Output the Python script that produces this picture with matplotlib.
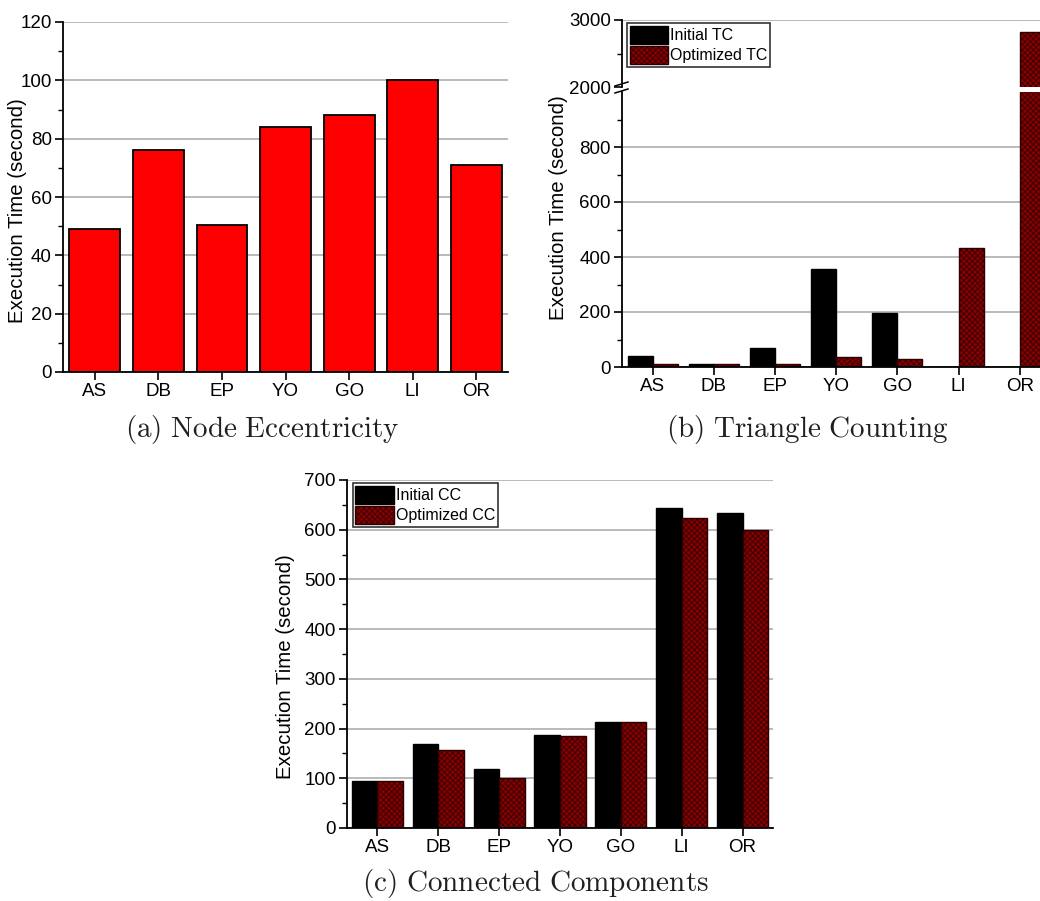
import matplotlib
matplotlib.use('Agg')
import matplotlib.pyplot as plt
import numpy as np
from matplotlib.ticker import FixedLocator

plt.rcParams['font.family'] = ['Liberation Sans', 'DejaVu Sans']
plt.rcParams['mathtext.fontset'] = 'cm'
plt.rcParams['hatch.linewidth'] = 0.5

# data
datasets = ['AS', 'DB', 'EP', 'YO', 'GO', 'LI', 'OR']
ecc_time = [49, 76, 50.5, 84, 88, 100, 71]
tc_initial = [39, 12, 70, 355, 198, 0, 0]
tc_optimized = [12, 12, 12, 35, 30, 433, 2820]
cc_initial = [95, 168, 119, 187, 213, 643, 634]
cc_optimized = [95, 156, 101, 185, 213, 624, 600]

RED = '#ff0000'
DARKRED = '#850000'
HATCH = 'xxxxxx'
HATCH_EDGE = '#2a0000'
GRID = '#b4b4b4'
W, H = 1040, 901


def fig_rect(left, top, right, bottom):
    # pixel box -> figure fraction
    return [left / W, 1 - bottom / H, (right - left) / W, (bottom - top) / H]


def style_axes(ax, major, minor):
    for s in ['top', 'right']:
        ax.spines[s].set_visible(False)
    for s in ['left', 'bottom']:
        ax.spines[s].set_linewidth(1.3)
    ax.yaxis.set_major_locator(FixedLocator(major))
    ax.yaxis.set_minor_locator(FixedLocator(minor))
    ax.tick_params(axis='both', which='major', direction='out', length=6,
                   width=1.2, labelsize=13.5, pad=2)
    ax.tick_params(axis='y', which='minor', direction='out', length=3.5,
                   width=1.0)
    ax.yaxis.grid(True, color=GRID, lw=1.3)
    ax.set_axisbelow(True)
    ax.set_xlim(-0.5, len(datasets) - 0.5)


def caption(x, y, text):
    fig.text(x / W, 1 - y / H, r'$\mathrm{' + text.replace(' ', r'\ ') + '}$',
             fontsize=21, ha='center', va='center', color='#202020')


def add_legend(ax, anchor):
    leg = ax.legend(loc='upper left', bbox_to_anchor=anchor, fontsize=11.5,
                    frameon=True, fancybox=False, edgecolor='#333333',
                    borderpad=0.15, labelspacing=0.1, handlelength=2.4,
                    handleheight=1.4, handletextpad=0.15, borderaxespad=0,
                    framealpha=1)
    leg.get_frame().set_linewidth(1.2)


fig = plt.figure(figsize=(10.4, 9.01), dpi=100)
x = np.arange(len(datasets))

# (a) node eccentricity
ax_a = fig.add_axes(fig_rect(63, 22, 508, 372))
ax_a.bar(x, ecc_time, width=0.8, color=RED, edgecolor='black', lw=1.3)
style_axes(ax_a, np.arange(0, 121, 20), np.arange(10, 120, 20))
ax_a.set_ylim(0, 120)
ax_a.set_xticks(x)
ax_a.set_xticklabels(datasets)
ax_a.set_ylabel('Execution Time (second)', fontsize=14.7)
ax_a.yaxis.set_label_coords(-0.081, 0.46)
caption(262, 430, '(a) Node Eccentricity')

# (b) triangle counting, broken y axis
bw = 0.41
ax_b = fig.add_axes(fig_rect(622, 92, 622 + 7 * 61.2, 367))
ax_bt = fig.add_axes(fig_rect(622, 20, 622 + 7 * 61.2, 87))
for ax in (ax_b, ax_bt):
    ax.bar(x - bw / 2, tc_initial, width=bw, color='black', edgecolor='black',
           lw=1.0, label='Initial TC')
    ax.bar(x + bw / 2, tc_optimized, width=bw, color=DARKRED,
           edgecolor=HATCH_EDGE, hatch=HATCH, lw=1.0, label='Optimized TC')
style_axes(ax_b, [0, 200, 400, 600, 800], [100, 300, 500, 700, 900])
ax_b.set_ylim(0, 1000)
ax_b.set_xticks(x)
ax_b.set_xticklabels(datasets)
ax_b.set_ylabel('Execution Time (second)', fontsize=14.7)
ax_b.yaxis.set_label_coords(-0.126, 0.58)

style_axes(ax_bt, [2000, 3000], [2500])
ax_bt.set_ylim(2000, 3000)
ax_bt.spines['bottom'].set_visible(False)
ax_bt.set_xticks([])
ax_bt.get_ygridlines()[0].set_visible(False)

# break marks on the y axis
for yy in (84, 91):
    fig.add_artist(plt.Line2D([615 / W, 628 / W],
                              [1 - (yy + 2) / H, 1 - (yy - 2) / H],
                              color='black', lw=1.1))

add_legend(ax_bt, (0.012, 0.95))
caption(807, 430, '(b) Triangle Counting')

# (c) connected components
bw = 0.42
ax_c = fig.add_axes(fig_rect(347, 480, 773, 828))
ax_c.bar(x - bw / 2, cc_initial, width=bw, color='black', edgecolor='black',
         lw=1.0, label='Initial CC')
ax_c.bar(x + bw / 2, cc_optimized, width=bw, color=DARKRED,
         edgecolor=HATCH_EDGE, hatch=HATCH, lw=1.0, label='Optimized CC')
style_axes(ax_c, np.arange(0, 701, 100), np.arange(50, 700, 100))
ax_c.set_ylim(0, 700)
ax_c.set_xticks(x)
ax_c.set_xticklabels(datasets)
ax_c.set_ylabel('Execution Time (second)', fontsize=14.7)
ax_c.yaxis.set_label_coords(-0.122, 0.463)
add_legend(ax_c, (0.014, 0.99))
caption(535, 884, '(c) Connected Components')

plt.savefig('out.png', dpi=100)
